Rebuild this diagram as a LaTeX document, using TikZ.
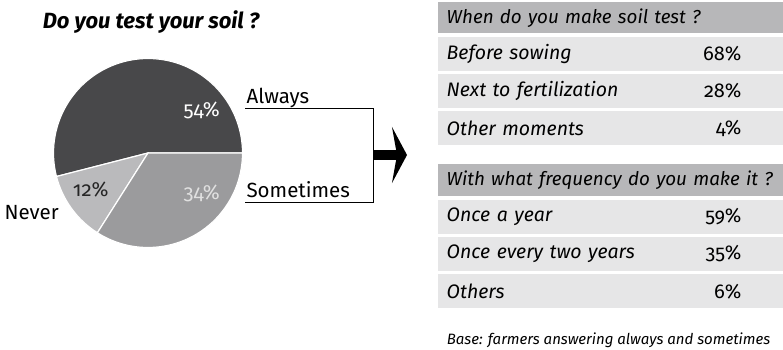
\documentclass[tikz,border=0pt]{standalone}
\usepackage{fontspec}
\setmainfont{Fira Sans}[Numbers=OldStyle]
\usetikzlibrary{arrows.meta,positioning}

\definecolor{piedark}{HTML}{48484A}
\definecolor{piemid}{HTML}{9B9B9D}
\definecolor{pielight}{HTML}{BABABC}
\definecolor{headgray}{HTML}{B7B7B9}
\definecolor{rowgray}{HTML}{E6E6E7}

\tikzset{
  slice/.style={draw=white,line width=1.2pt},
  pielabel/.style={font=\fontsize{20.5}{23}\selectfont},
  tabhead/.style={fill=headgray,anchor=north west,minimum width=345pt,
    minimum height=31pt,text width=345pt,inner xsep=8.5pt,inner ysep=0pt,
    align=left,font=\itshape\fontsize{18.8}{22}\selectfont},
  tabrow/.style={tabhead,fill=rowgray,minimum height=34pt,font=\itshape\fontsize{19.5}{22}\selectfont},
  pct/.style={anchor=east,font=\fontsize{20}{22}\selectfont}
}

\begin{document}
\begin{tikzpicture}[x=1pt,y=1pt]
  \useasboundingbox (0,0) rectangle (783,349);

  % question and pie
  \node[font=\bfseries\itshape\fontsize{22}{25}\selectfont] (title) at (151,327) {Do you test your soil ?};
  \coordinate (c) at (148,196);
  \filldraw[slice,fill=piedark] (c) -- ++(0:94.5pt) arc[start angle=0,end angle=194.4,radius=94.5pt] -- cycle;
  \filldraw[slice,fill=pielight] (c) -- ++(194.4:94.5pt) arc[start angle=194.4,end angle=237.6,radius=94.5pt] -- cycle;
  \filldraw[slice,fill=piemid] (c) -- ++(237.6:94.5pt) arc[start angle=237.6,end angle=360,radius=94.5pt] -- cycle;

  \node[pielabel,text=white] (p54) at (201.7,239) {54\%};
  \node[pielabel,text=white!88!black] (p34) at (201.7,155.7) {34\%};
  \node[pielabel,text=black!85] (p12) at (90.7,159) {12\%};
  \node[pielabel,anchor=west] (never) at (1,136) {Never};
  \node[pielabel,anchor=west] (always) at (243,251) {Always};
  \node[pielabel,anchor=west] (sometimes) at (243,159) {Sometimes};

  % bracket and arrow
  \coordinate (alw) at (245,240.7);
  \coordinate (som) at (245,146.3);
  \coordinate (brk) at (373,194);
  \coordinate (tip) at (407,194);
  \draw[line width=0.7pt] (alw) -- (alw -| brk) -- (som -| brk) -- (som);
  \draw[line width=10pt,-{Stealth[length=15pt,width=56pt,inset=5pt]}] (brk) -- (tip);

  % tables
  \coordinate (pctcol) at (745,0);
  \node[tabhead] (q1) at (438,347) {When do you make soil test ?};
  \node[tabrow,below right=3pt and 0pt of q1.south west] (r1) {Before sowing};
  \node[tabrow,below right=3pt and 0pt of r1.south west] (r2) {Next to fertilization};
  \node[tabrow,below right=3pt and 0pt of r2.south west] (r3) {Other moments};
  \node[pct] (v1) at (r1.center -| pctcol) {68\%};
  \node[pct] (v2) at (r2.center -| pctcol) {28\%};
  \node[pct] (v3) at (r3.center -| pctcol) {4\%};

  \node[tabhead,minimum height=32pt] (q2) at (438,185) {With what frequency do you make it ?};
  \node[tabrow,below right=3pt and 0pt of q2.south west] (s1) {Once a year};
  \node[tabrow,below right=3pt and 0pt of s1.south west] (s2) {Once every two years};
  \node[tabrow,below right=3pt and 0pt of s2.south west] (s3) {Others};
  \node[pct] (w1) at (s1.center -| pctcol) {59\%};
  \node[pct] (w2) at (s2.center -| pctcol) {35\%};
  \node[pct] (w3) at (s3.center -| pctcol) {6\%};

  \node[anchor=west,inner xsep=0pt,font=\itshape\fontsize{15}{17}\selectfont] (base) at (446.7,9) {Base: farmers answering always and sometimes};
\end{tikzpicture}
\end{document}
